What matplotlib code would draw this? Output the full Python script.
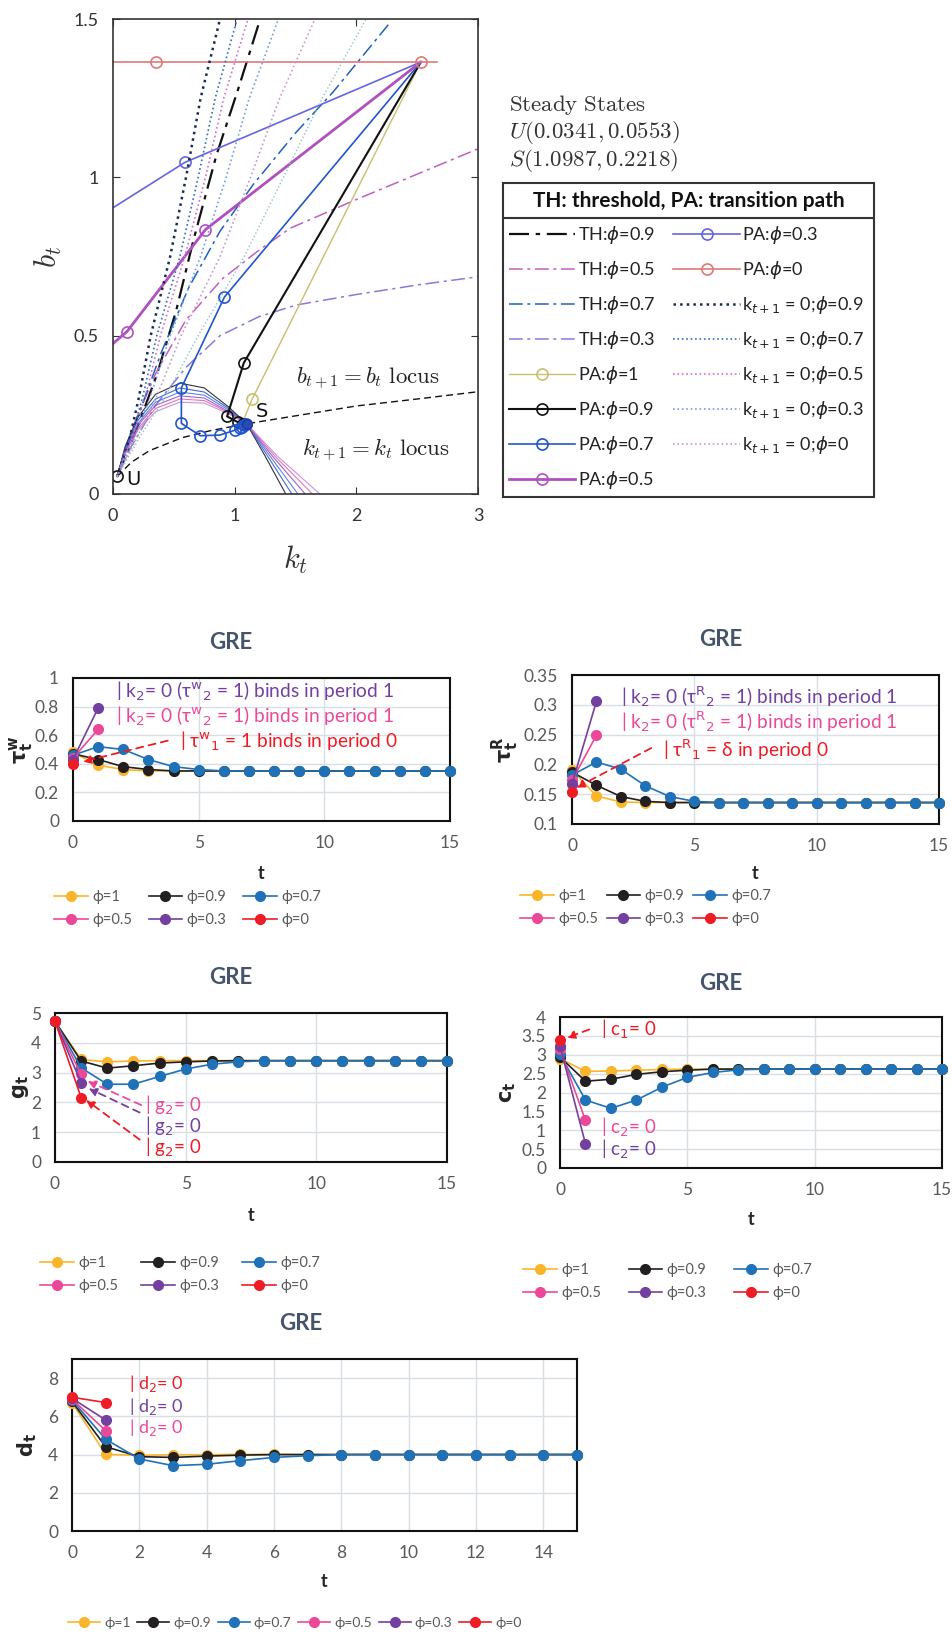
import matplotlib
matplotlib.use("Agg")
import matplotlib.pyplot as plt
from matplotlib.patches import Rectangle
from matplotlib.ticker import FuncFormatter

plt.rcParams['font.family'] = ['Lato', 'DejaVu Sans']

W, H = 952, 1641

# ---------------- phase diagram data (k_t, b_t) ----------------
U = (0.0341, 0.0553)
S = (1.0987, 0.2218)

# thresholds (dash-dot)
th09_k = [0.034, 0.19, 0.36, 0.52, 0.66, 0.85, 1.03, 1.21]
th09_b = [0.055, 0.20, 0.376, 0.58, 0.80, 1.07, 1.28, 1.50]
th05_k = [0.034, 0.15, 0.35, 0.60, 0.90, 1.20, 1.455, 2.00, 2.50, 3.00]
th05_b = [0.055, 0.20, 0.38, 0.55, 0.68, 0.77, 0.839, 0.93, 1.01, 1.09]
th07_k = [0.034, 0.20, 0.40, 0.62, 0.88, 1.15, 1.50, 1.81, 2.28]
th07_b = [0.055, 0.24, 0.45, 0.65, 0.83, 0.976, 1.14, 1.27, 1.49]
th03_k = [0.034, 0.15, 0.35, 0.60, 0.88, 1.20, 1.51, 2.00, 2.50, 3.00]
th03_b = [0.055, 0.15, 0.28, 0.40, 0.50, 0.56, 0.597, 0.63, 0.66, 0.686]

# transition paths
pa1_k = [2.53, 1.143, 1.08, 1.0987]
pa1_b = [1.364, 0.299, 0.24, 0.2218]
pa09_k = [2.53, 1.075, 0.938, 1.03, 1.07, 1.0987]
pa09_b = [1.364, 0.414, 0.245, 0.226, 0.222, 0.2218]
pa07_k = [2.53, 0.916, 0.562, 0.562, 0.718, 0.877, 1.006, 1.04, 1.06, 1.075, 1.09]
pa07_b = [1.364, 0.622, 0.335, 0.223, 0.184, 0.186, 0.202, 0.208, 0.213, 0.217, 0.22]
pa05_k = [2.53, 0.76, 0.115, 0.0]
pa05_b = [1.364, 0.835, 0.513, 0.475]
pa03_k = [2.53, 0.59, 0.0]
pa03_b = [1.364, 1.047, 0.904]
pa0_k = [0.0, 0.356, 2.53, 2.66]
pa0_b = [1.364, 1.364, 1.364, 1.364]

# k_{t+1} = 0 lines (dotted)
kz_b = [0.055, 0.18, 0.30, 0.50, 0.75, 1.00, 1.25, 1.50]
kz09_k = [0.034, 0.14, 0.21, 0.31, 0.47, 0.60, 0.72, 0.88]
kz07_k = [0.034, 0.15, 0.24, 0.36, 0.55, 0.70, 0.84, 1.02]
kz05_k = [0.034, 0.16, 0.26, 0.39, 0.59, 0.76, 0.91, 1.11]
kz03_k = [0.034, 0.18, 0.30, 0.47, 0.72, 0.93, 1.12, 1.36]
kz00_k = [0.034, 0.20, 0.35, 0.56, 0.88, 1.13, 1.37, 1.66]
kzx_k = [0.034, 0.22, 0.42, 0.70, 1.08, 1.40, 1.72, 2.08]

# k_{t+1} = k_t loci (humps)
hump_k = [
    [0.034, 0.10, 0.20, 0.35, 0.55, 0.75, 0.95, 1.0987, 1.25, 1.42],
    [0.034, 0.10, 0.20, 0.35, 0.55, 0.75, 0.95, 1.0987, 1.27, 1.47],
    [0.034, 0.10, 0.20, 0.35, 0.55, 0.75, 0.95, 1.0987, 1.29, 1.52],
    [0.034, 0.10, 0.20, 0.35, 0.55, 0.75, 0.95, 1.0987, 1.31, 1.58],
    [0.034, 0.10, 0.20, 0.35, 0.55, 0.75, 0.95, 1.0987, 1.33, 1.64],
    [0.034, 0.10, 0.20, 0.35, 0.55, 0.75, 0.95, 1.0987, 1.35, 1.70],
]
hump_b = [
    [0.055, 0.150, 0.240, 0.315, 0.350, 0.335, 0.275, 0.2218, 0.12, 0.0],
    [0.055, 0.145, 0.230, 0.300, 0.335, 0.322, 0.270, 0.2218, 0.12, 0.0],
    [0.055, 0.140, 0.220, 0.290, 0.322, 0.312, 0.265, 0.2218, 0.12, 0.0],
    [0.055, 0.135, 0.215, 0.280, 0.310, 0.303, 0.260, 0.2218, 0.12, 0.0],
    [0.055, 0.130, 0.205, 0.270, 0.300, 0.295, 0.257, 0.2218, 0.12, 0.0],
    [0.055, 0.125, 0.200, 0.260, 0.290, 0.287, 0.253, 0.2218, 0.12, 0.0],
]
hump_colors = ['#111111', '#2050D0', '#4070E0', '#A040C0', '#E060A0', '#C080E0']

# b_{t+1} = b_t locus
bl_k = [0.034, 0.15, 0.30, 0.57, 0.80, 1.0987, 1.455, 2.00, 2.50, 3.00]
bl_b = [0.055, 0.10, 0.137, 0.178, 0.20, 0.2218, 0.244, 0.278, 0.30, 0.323]

# ---------------- GRE panels data ----------------
t = list(range(16))
phi_labels = ['ϕ=1', 'ϕ=0.9', 'ϕ=0.7', 'ϕ=0.5', 'ϕ=0.3', 'ϕ=0']
phi_colors = ['#FBB52A', '#231F20', '#1F72B8', '#EC4899', '#7340A0', '#EE1C25']

tauw_1 = [0.48, 0.39, 0.36, 0.35, 0.35, 0.35, 0.35, 0.35, 0.35, 0.35, 0.35, 0.35, 0.35, 0.35, 0.35, 0.35]
tauw_09 = [0.47, 0.43, 0.38, 0.36, 0.35, 0.35, 0.35, 0.35, 0.35, 0.35, 0.35, 0.35, 0.35, 0.35, 0.35, 0.35]
tauw_07 = [0.46, 0.52, 0.50, 0.43, 0.38, 0.36, 0.35, 0.35, 0.35, 0.35, 0.35, 0.35, 0.35, 0.35, 0.35, 0.35]
tauw_05 = [0.44, 0.64]
tauw_03 = [0.43, 0.79]
tauw_0 = [0.40]

taur_1 = [0.191, 0.147, 0.137, 0.136, 0.136, 0.136, 0.136, 0.136, 0.136, 0.136, 0.136, 0.136, 0.136, 0.136, 0.136, 0.136]
taur_09 = [0.187, 0.165, 0.146, 0.138, 0.136, 0.136, 0.136, 0.136, 0.136, 0.136, 0.136, 0.136, 0.136, 0.136, 0.136, 0.136]
taur_07 = [0.182, 0.204, 0.192, 0.164, 0.146, 0.138, 0.136, 0.136, 0.136, 0.136, 0.136, 0.136, 0.136, 0.136, 0.136, 0.136]
taur_05 = [0.173, 0.249]
taur_03 = [0.167, 0.306]
taur_0 = [0.154]

g_1 = [4.72, 3.44, 3.36, 3.39, 3.40, 3.40, 3.40, 3.40, 3.40, 3.40, 3.40, 3.40, 3.40, 3.40, 3.40, 3.40]
g_09 = [4.72, 3.39, 3.15, 3.23, 3.32, 3.36, 3.39, 3.40, 3.40, 3.40, 3.40, 3.40, 3.40, 3.40, 3.40, 3.40]
g_07 = [4.72, 3.16, 2.61, 2.61, 2.87, 3.12, 3.28, 3.36, 3.40, 3.40, 3.40, 3.40, 3.40, 3.40, 3.40, 3.40]
g_05 = [4.72, 2.94]
g_03 = [4.72, 2.66]
g_0 = [4.72, 2.16]

c_1 = [2.90, 2.56, 2.57, 2.59, 2.61, 2.62, 2.62, 2.62, 2.62, 2.62, 2.62, 2.62, 2.62, 2.62, 2.62, 2.62]
c_09 = [2.94, 2.30, 2.35, 2.48, 2.55, 2.59, 2.62, 2.62, 2.62, 2.62, 2.62, 2.62, 2.62, 2.62, 2.62, 2.62]
c_07 = [3.01, 1.80, 1.58, 1.80, 2.14, 2.40, 2.53, 2.60, 2.62, 2.62, 2.62, 2.62, 2.62, 2.62, 2.62, 2.62]
c_05 = [3.15, 1.26]
c_03 = [3.23, 0.64]
c_0 = [3.39]

d_1 = [6.72, 4.01, 3.96, 3.99, 3.99, 4.01, 4.01, 4.00, 4.00, 4.00, 4.00, 4.00, 4.00, 4.00, 4.00, 4.00]
d_09 = [6.78, 4.41, 3.89, 3.85, 3.92, 3.97, 4.00, 4.00, 4.00, 4.00, 4.00, 4.00, 4.00, 4.00, 4.00, 4.00]
d_07 = [6.86, 4.80, 3.77, 3.42, 3.49, 3.68, 3.85, 3.94, 4.00, 4.00, 4.00, 4.00, 4.00, 4.00, 4.00, 4.00]
d_05 = [6.90, 5.25]
d_03 = [6.94, 5.81]
d_0 = [7.00, 6.72]


def rect(l, tp, r, b):
    return [l / W, 1 - b / H, (r - l) / W, (b - tp) / H]


fig = plt.figure(figsize=(W / 100, H / 100), dpi=100)

# ================= phase diagram =================
ax = fig.add_axes(rect(113, 19, 478, 494))
handles = []
dd = (0, (9, 3, 2, 3))
handles.append(ax.plot(th09_k, th09_b, color='#111111', lw=1.6, ls=dd, label='TH:$\\phi$=0.9')[0])
handles.append(ax.plot(th05_k, th05_b, color='#C060C0', lw=1.1, ls=dd, label='TH:$\\phi$=0.5')[0])
handles.append(ax.plot(th07_k, th07_b, color='#2060C0', lw=1.1, ls=dd, label='TH:$\\phi$=0.7')[0])
handles.append(ax.plot(th03_k, th03_b, color='#8A78DA', lw=1.1, ls=dd, label='TH:$\\phi$=0.3')[0])

for hk, hb, hc in zip(hump_k, hump_b, hump_colors):
    ax.plot(hk, hb, color=hc, lw=0.8, alpha=0.85)
ax.plot(bl_k, bl_b, color='#111111', lw=1.0, ls=(0, (5, 3)))

mk = dict(marker='o', ms=8, mfc='none', mew=1.2)
handles.append(ax.plot(pa1_k, pa1_b, color='#C8C070', lw=1.0, markevery=[1], label='PA:$\\phi$=1', **mk)[0])
handles.append(ax.plot(pa09_k, pa09_b, color='#111111', lw=1.5, markevery=[1, 2, 3, 4], label='PA:$\\phi$=0.9', **mk)[0])
handles.append(ax.plot(pa07_k, pa07_b, color='#2255CC', lw=1.2, markevery=list(range(1, 11)), label='PA:$\\phi$=0.7', **mk)[0])
handles.append(ax.plot(pa05_k, pa05_b, color='#B050C0', lw=2.0, markevery=[1, 2], label='PA:$\\phi$=0.5', **mk)[0])
handles.append(ax.plot(pa03_k, pa03_b, color='#6565E0', lw=1.2, markevery=[1], label='PA:$\\phi$=0.3', **mk)[0])
handles.append(ax.plot(pa0_k, pa0_b, color='#E07878', lw=1.2, markevery=[1, 2], label='PA:$\\phi$=0', **mk)[0])

handles.append(ax.plot(kz09_k, kz_b, color='#1A2A50', lw=1.8, ls=':', label='k$_{t+1}$ = 0;$\\phi$=0.9')[0])
handles.append(ax.plot(kz07_k, kz_b, color='#3070C0', lw=1.2, ls=':', label='k$_{t+1}$ = 0;$\\phi$=0.7')[0])
handles.append(ax.plot(kz05_k, kz_b, color='#D070D0', lw=1.2, ls=':', label='k$_{t+1}$ = 0;$\\phi$=0.5')[0])
handles.append(ax.plot(kz03_k, kz_b, color='#70A0E8', lw=1.2, ls=':', label='k$_{t+1}$ = 0;$\\phi$=0.3')[0])
handles.append(ax.plot(kz00_k, kz_b, color='#C898C8', lw=1.2, ls=':', label='k$_{t+1}$ = 0;$\\phi$=0')[0])
ax.plot(kzx_k, kz_b, color='#90C0C8', lw=1.0, ls=':')

ax.plot([U[0]], [U[1]], color='#111111', **mk)
ax.plot([S[0]], [S[1]], color='#1a3aa0', marker='o', ms=7, mfc='#2a4ab8', mec='#1a3aa0')
ax.text(0.11, 0.045, 'U', fontsize=14, va='center', color='#111111', family='DejaVu Sans')
ax.text(1.17, 0.262, 'S', fontsize=14, va='center', color='#111111', family='DejaVu Sans')
ax.text(1.50, 0.362, r'$b_{t+1}=b_t\ \mathrm{locus}$', fontsize=16.5, math_fontfamily='cm', va='center', color='#222222')
ax.text(1.55, 0.136, r'$k_{t+1}=k_t\ \mathrm{locus}$', fontsize=16.5, math_fontfamily='cm', va='center', color='#222222')

ax.set_xlim(0, 3)
ax.set_ylim(0, 1.5)
ax.set_xticks([0, 1, 2, 3])
ax.set_yticks([0, 0.5, 1, 1.5])
ax.xaxis.set_major_formatter(FuncFormatter(lambda v, p: f'{v:g}'))
ax.yaxis.set_major_formatter(FuncFormatter(lambda v, p: f'{v:g}'))
ax.tick_params(direction='in', top=True, right=True, labelsize=13, colors='#333333', length=5, pad=10)
for sp in ax.spines.values():
    sp.set_color('#333333')
    sp.set_linewidth(1.2)
ax.set_xlabel(r'$k_t$', fontsize=22, math_fontfamily='cm', color='#333333')
ax.set_ylabel(r'$b_t$', fontsize=22, math_fontfamily='cm', color='#333333')
ax.xaxis.set_label_coords(0.5, -0.105)
ax.yaxis.set_label_coords(-0.135, 0.5)

# steady states text
fig.text(509 / W, 1 - 105 / H, r'$\mathrm{Steady\ States}$', fontsize=16.5, math_fontfamily='cm', va='center', color='#333333')
fig.text(509 / W, 1 - 133 / H, r'$U(0.0341, 0.0553)$', fontsize=16.5, math_fontfamily='cm', va='center', color='#333333')
fig.text(509 / W, 1 - 161 / H, r'$S(1.0987, 0.2218)$', fontsize=16.5, math_fontfamily='cm', va='center', color='#333333')

# legend box
lax = fig.add_axes(rect(503, 183, 874, 497))
lax.set_xlim(0, 1)
lax.set_ylim(0, 1)
lax.axis('off')
lax.add_patch(Rectangle((0, 0), 1, 1, fill=False, ec='#333333', lw=1.5, clip_on=False))
sep = (497 - 218) / (497 - 183)
lax.plot([0, 1], [sep, sep], color='#333333', lw=1.5)
lax.text(0.5, (497 - 201) / 314, 'TH: threshold, PA: transition path', ha='center', va='center',
         fontsize=15, fontweight='bold', color='#111111')
lax.legend(handles, [h.get_label() for h in handles], loc='upper left', bbox_to_anchor=(0.015, sep - 0.02),
           ncol=2, frameon=False, fontsize=13, handlelength=3.7, labelspacing=0.72, columnspacing=1.0,
           handletextpad=0.12, borderaxespad=0, borderpad=0, labelcolor='#222222')


# ================= GRE panels =================
def gre(box, series, ylim, yticks, xticks, ylabel, ylab_x, xlab_y, title_xy, leg_xy, ncol, colsp, lfs=10.5):
    a = fig.add_axes(rect(*box))
    hs = []
    for ys, lab, col in zip(series, phi_labels, phi_colors):
        h, = a.plot(t[:len(ys)], ys, color=col, lw=1.2, marker='o', ms=7, label=lab, clip_on=False, zorder=3)
        hs.append(h)
    a.set_xlim(0, 15)
    a.set_ylim(*ylim)
    a.set_xticks(xticks)
    a.set_yticks(yticks)
    a.xaxis.set_major_formatter(FuncFormatter(lambda v, p: f'{v:g}'))
    a.yaxis.set_major_formatter(FuncFormatter(lambda v, p: f'{v:g}'))
    a.grid(True, color='#D9DEE6', lw=1.0)
    a.set_axisbelow(True)
    a.tick_params(length=0, labelsize=12.5, colors='#595959', pad=10)
    for sp in a.spines.values():
        sp.set_color('#111111')
        sp.set_linewidth(1.5)
    a.set_xlabel('t', fontsize=13, fontweight='bold', color='#262626')
    a.set_ylabel(ylabel, fontsize=15, color='#262626')
    a.xaxis.set_label_coords(0.5, xlab_y)
    a.yaxis.set_label_coords(ylab_x, 0.5)
    fig.text(title_xy[0] / W, 1 - title_xy[1] / H, 'GRE', fontsize=16, fontweight='bold',
             color='#44546A', ha='center', va='center')
    if ncol == 3:
        order = [0, 3, 1, 4, 2, 5]
    else:
        order = list(range(6))
    fig.legend([hs[i] for i in order], [phi_labels[i] for i in order], loc='upper left',
               bbox_to_anchor=(leg_xy[0] / W, 1 - leg_xy[1] / H), ncol=ncol, frameon=False,
               fontsize=lfs, handlelength=2.3, columnspacing=colsp, labelspacing=0.62,
               handletextpad=0.3, borderaxespad=0, borderpad=0, labelcolor='#595959')
    return a


def note(a, x, y, s, col, fs=13.8):
    a.text(x, y, s, color=col, fontsize=fs, va='center', ha='left', zorder=5)


def arrow(a, xy, xytext, col):
    a.annotate('', xy=xy, xytext=xytext,
               arrowprops=dict(arrowstyle='-|>', ls=(0, (4, 3)), color=col, lw=1.3, mutation_scale=12,
                               shrinkA=0, shrinkB=0), zorder=5)


a1 = gre((73, 678, 450, 821), [tauw_1, tauw_09, tauw_07, tauw_05, tauw_03, tauw_0], (0, 1),
         [0, 0.2, 0.4, 0.6, 0.8, 1], [0, 5, 10, 15], r'$\mathbf{\tau_t^w}$', -0.10, -0.31,
         (231, 642), (54, 890), 3, 1.15)
note(a1, 1.71, 0.906, '| k$_2$= 0 (τ$^{\\rm w}$$_2$ = 1) binds in period 1', phi_colors[4])
note(a1, 1.71, 0.731, '| k$_2$= 0 (τ$^{\\rm w}$$_2$ = 1) binds in period 1', phi_colors[3])
note(a1, 4.24, 0.555, '| τ$^{\\rm w}$$_1$ = 1 binds in period 0', phi_colors[5])
arrow(a1, (0.39, 0.415), (3.77, 0.562), phi_colors[5])

a2 = gre((572, 675, 939, 824), [taur_1, taur_09, taur_07, taur_05, taur_03, taur_0], (0.1, 0.35),
         [0.1, 0.15, 0.2, 0.25, 0.3, 0.35], [0, 5, 10, 15], r'$\mathbf{\tau_t^R}$', -0.14, -0.275,
         (721, 639), (520, 889), 3, 0.6)
note(a2, 2.01, 0.314, '| k$_2$= 0 (τ$^{\\rm R}$$_2$ = 1) binds in period 1', phi_colors[4])
note(a2, 2.01, 0.271, '| k$_2$= 0 (τ$^{\\rm R}$$_2$ = 1) binds in period 1', phi_colors[3])
note(a2, 3.71, 0.2247, '| τ$^{\\rm R}$$_1$ = δ in period 0', phi_colors[5])
arrow(a2, (0.18, 0.161), (3.24, 0.2275), phi_colors[5])

a3 = gre((55, 1013, 447, 1162), [g_1, g_09, g_07, g_05, g_03, g_0], (0, 5),
         [0, 1, 2, 3, 4, 5], [0, 5, 10, 15], r'$\mathbf{g_t}$', -0.06, -0.30,
         (231, 977), (40, 1256), 3, 1.6)
note(a3, 3.43, 1.90, '| g$_2$= 0', phi_colors[3], 13.5)
note(a3, 3.43, 1.20, '| g$_2$= 0', phi_colors[4], 13.5)
note(a3, 3.43, 0.48, '| g$_2$= 0', phi_colors[5], 13.5)
arrow(a3, (1.25, 2.72), (3.30, 1.91), phi_colors[3])
arrow(a3, (1.29, 2.47), (3.24, 1.66), phi_colors[4])
arrow(a3, (1.19, 2.08), (3.24, 0.75), phi_colors[5])

a4 = gre((560, 1017, 942, 1168), [c_1, c_09, c_07, c_05, c_03, c_0], (0, 4),
         [0, 0.5, 1, 1.5, 2, 2.5, 3, 3.5, 4], [0, 5, 10, 15], r'$\mathbf{c_t}$', -0.11, -0.285,
         (721, 983), (523, 1263), 3, 1.9)
note(a4, 1.61, 3.66, '| c$_1$= 0', phi_colors[5], 13.5)
note(a4, 1.61, 1.07, '| c$_2$= 0', phi_colors[3], 13.5)
note(a4, 1.61, 0.50, '| c$_2$= 0', phi_colors[4], 13.5)
arrow(a4, (0.27, 3.45), (1.15, 3.67), phi_colors[5])

a5 = gre((72, 1359, 577, 1531), [d_1, d_09, d_07, d_05, d_03, d_0], (0, 9),
         [0, 2, 4, 6, 8], [0, 2, 4, 6, 8, 10, 12, 14], r'$\mathbf{d_t}$', -0.065, -0.244,
         (301, 1323), (68, 1617), 6, 0.48, 10)
note(a5, 1.69, 7.74, '| d$_2$= 0', phi_colors[5], 13)
note(a5, 1.69, 6.50, '| d$_2$= 0', phi_colors[4], 13)
note(a5, 1.69, 5.40, '| d$_2$= 0', phi_colors[3], 13)

fig.savefig('out.png', dpi=100, facecolor='white')
